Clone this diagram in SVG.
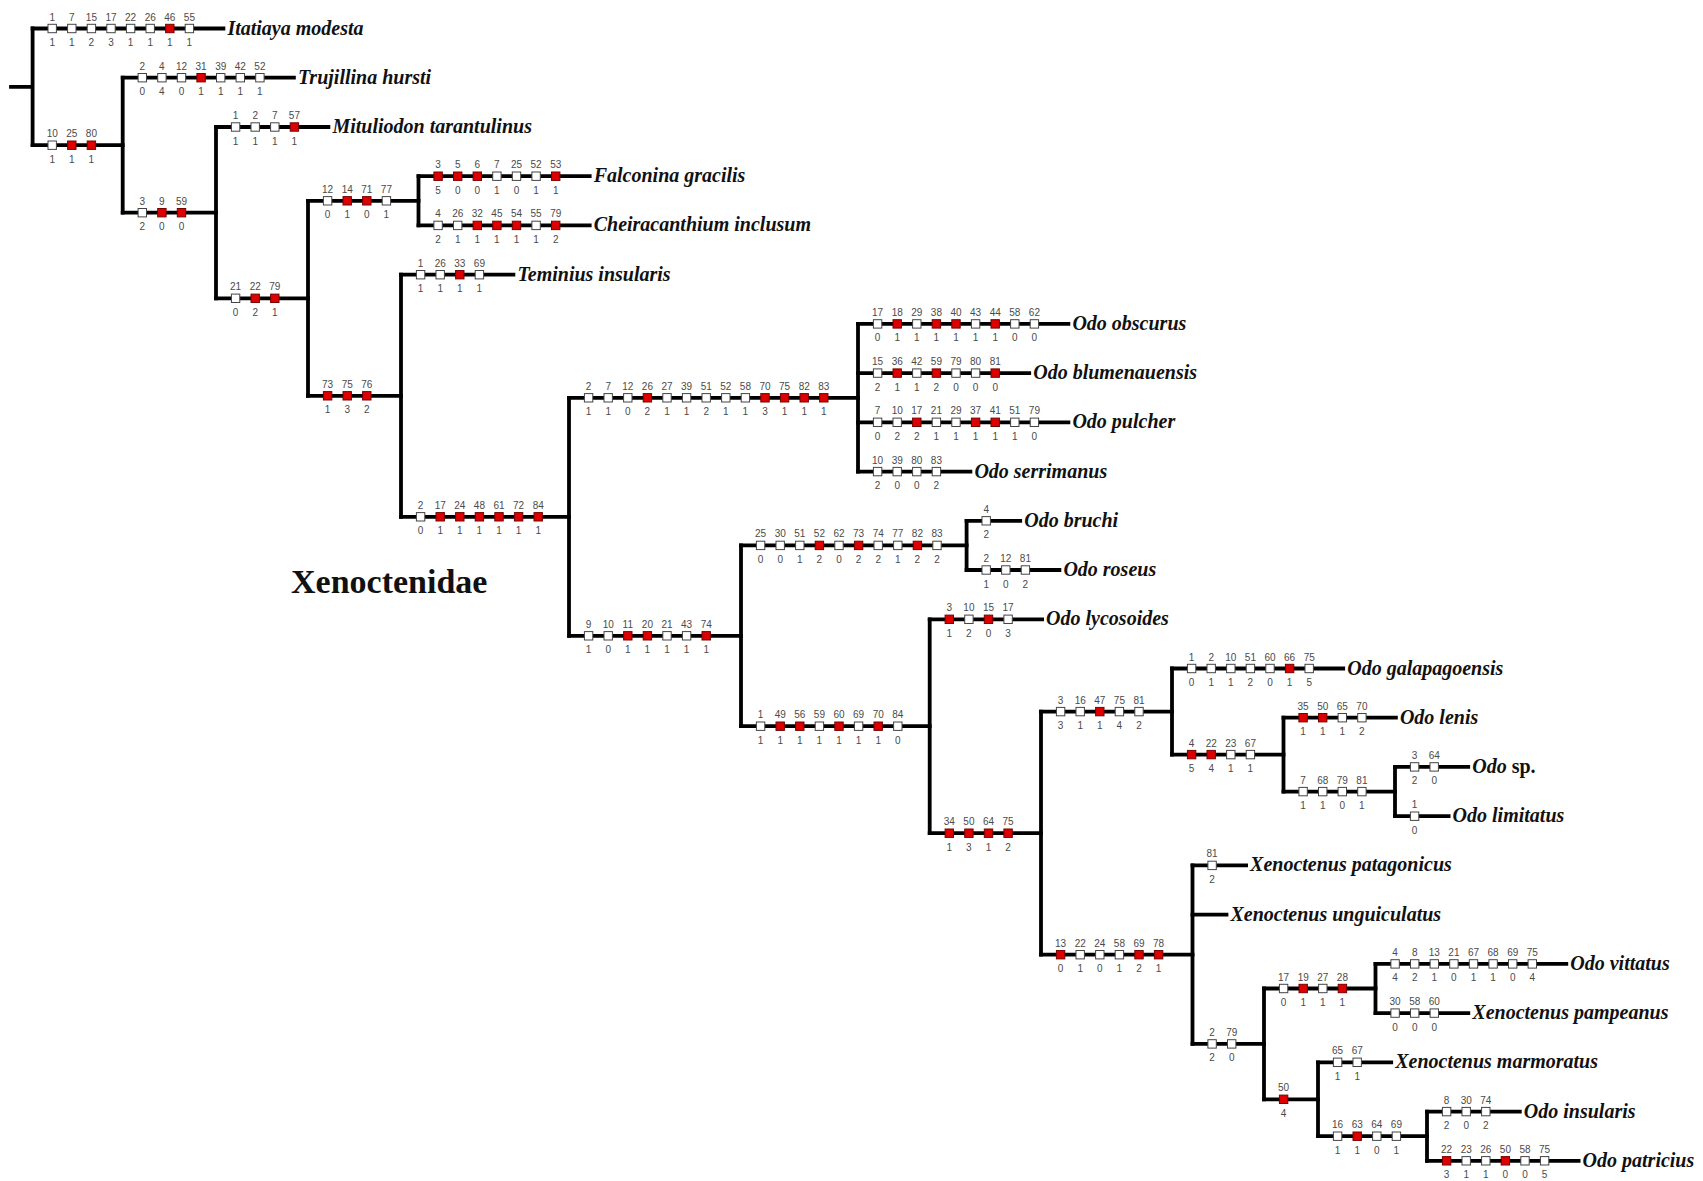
<svg xmlns="http://www.w3.org/2000/svg" width="1703" height="1181" viewBox="0 0 1703 1181">
<style>
.c{fill:none;stroke:#000;stroke-width:3.8;stroke-linecap:square}
.n{font-family:"Liberation Sans",Arial,sans-serif;font-size:10px;fill:#4a4a4a;text-anchor:middle}
.t{font-family:"Liberation Serif","Times New Roman",serif;font-size:20px;font-weight:bold;font-style:italic;fill:#111}
.fam{font-family:"Liberation Serif","Times New Roman",serif;font-size:34px;font-weight:bold;fill:#111}
</style>
<defs>
<rect id="w" x="-4.2" y="-4.2" width="8.4" height="8.4" fill="#fff" stroke="#444" stroke-width="1"/>
<rect id="r" x="-4.2" y="-4.2" width="8.4" height="8.4" fill="#dd0000" stroke="#700" stroke-width="1"/>
</defs>
<rect width="1703" height="1181" fill="#fff"/>
<g id="connectors">
<path class="c" d="M11 86.9H32.6 M32.6 28.5V145.2 M122.7 77.7V212.7 M216 127V298.3 M308 200.8V395.8 M418.5 176.2V225.4 M401 274.7V516.8 M569 397.8V635.8 M858 323.9V471.6 M741 545.4V726.2 M966.6 520.8V570 M929.7 619.3V833.2 M1041 711.6V954.7 M1172 668.5V754.6 M1283.5 717.7V791.6 M1395 766.9V816.2 M1192.5 865.4V1043.9 M1264 988.5V1099.3 M1375.5 963.9V1013.1 M1318 1062.3V1136.2 M1427 1111.6V1160.8"/>
<path class="c" d="M32.6 28.5H223.4 M32.6 145.2H122.7 M122.7 77.7H293.9 M122.7 212.7H216 M216 127H328.4 M216 298.3H308 M308 200.8H418.5 M418.5 176.2H589.7 M418.5 225.4H589.7 M308 395.8H401 M401 274.7H513.4 M401 516.8H569 M569 397.8H858 M858 323.9H1068.4 M858 373.1H1029.2 M858 422.3H1068.4 M858 471.6H970.4 M569 635.8H741 M741 545.4H966.6 M966.6 520.8H1020.2 M966.6 570H1059.4 M741 726.2H929.7 M929.7 619.3H1042.1 M929.7 833.2H1041 M1041 711.6H1172 M1172 668.5H1343.2 M1172 754.6H1283.5 M1283.5 717.7H1395.9 M1283.5 791.6H1395 M1395 766.9H1468.2 M1395 816.2H1448.6 M1041 954.7H1192.5 M1192.5 865.4H1246.1 M1192.5 914.6H1226.5 M1192.5 1043.9H1264 M1264 988.5H1375.5 M1375.5 963.9H1566.3 M1375.5 1013.1H1468.3 M1264 1099.3H1318 M1318 1062.3H1391.2 M1318 1136.2H1427 M1427 1111.6H1519.8 M1427 1160.8H1578.6"/>
</g>
<text class="fam" x="291" y="593">Xenoctenidae</text>

<g id="itatiaya-modesta">
<use href="#w" x="52.2" y="28.5"/><use href="#w" x="71.8" y="28.5"/><use href="#w" x="91.4" y="28.5"/><use href="#w" x="111" y="28.5"/><use href="#w" x="130.6" y="28.5"/><use href="#w" x="150.2" y="28.5"/><use href="#r" x="169.8" y="28.5"/><use href="#w" x="189.4" y="28.5"/>
<text class="n" y="20.5"><tspan x="52.2">1</tspan><tspan x="71.8">7</tspan><tspan x="91.4">15</tspan><tspan x="111">17</tspan><tspan x="130.6">22</tspan><tspan x="150.2">26</tspan><tspan x="169.8">46</tspan><tspan x="189.4">55</tspan></text>
<text class="n" y="46"><tspan x="52.2">1</tspan><tspan x="71.8">1</tspan><tspan x="91.4">2</tspan><tspan x="111">3</tspan><tspan x="130.6">1</tspan><tspan x="150.2">1</tspan><tspan x="169.8">1</tspan><tspan x="189.4">1</tspan></text>
<text class="t" x="227.4" y="34.5">Itatiaya modesta</text>
</g>

<g id="node-A">
<use href="#w" x="52.2" y="145.2"/><use href="#r" x="71.8" y="145.2"/><use href="#r" x="91.4" y="145.2"/>
<text class="n" y="137.2"><tspan x="52.2">10</tspan><tspan x="71.8">25</tspan><tspan x="91.4">80</tspan></text>
<text class="n" y="162.7"><tspan x="52.2">1</tspan><tspan x="71.8">1</tspan><tspan x="91.4">1</tspan></text>
</g>

<g id="trujillina-hursti">
<use href="#w" x="142.3" y="77.7"/><use href="#w" x="161.9" y="77.7"/><use href="#w" x="181.5" y="77.7"/><use href="#r" x="201.1" y="77.7"/><use href="#w" x="220.7" y="77.7"/><use href="#w" x="240.3" y="77.7"/><use href="#w" x="259.9" y="77.7"/>
<text class="n" y="69.7"><tspan x="142.3">2</tspan><tspan x="161.9">4</tspan><tspan x="181.5">12</tspan><tspan x="201.1">31</tspan><tspan x="220.7">39</tspan><tspan x="240.3">42</tspan><tspan x="259.9">52</tspan></text>
<text class="n" y="95.2"><tspan x="142.3">0</tspan><tspan x="161.9">4</tspan><tspan x="181.5">0</tspan><tspan x="201.1">1</tspan><tspan x="220.7">1</tspan><tspan x="240.3">1</tspan><tspan x="259.9">1</tspan></text>
<text class="t" x="297.9" y="83.7">Trujillina hursti</text>
</g>

<g id="node-B">
<use href="#w" x="142.3" y="212.7"/><use href="#r" x="161.9" y="212.7"/><use href="#r" x="181.5" y="212.7"/>
<text class="n" y="204.7"><tspan x="142.3">3</tspan><tspan x="161.9">9</tspan><tspan x="181.5">59</tspan></text>
<text class="n" y="230.2"><tspan x="142.3">2</tspan><tspan x="161.9">0</tspan><tspan x="181.5">0</tspan></text>
</g>

<g id="mituliodon-tarantulinus">
<use href="#w" x="235.6" y="127"/><use href="#w" x="255.2" y="127"/><use href="#w" x="274.8" y="127"/><use href="#r" x="294.4" y="127"/>
<text class="n" y="119"><tspan x="235.6">1</tspan><tspan x="255.2">2</tspan><tspan x="274.8">7</tspan><tspan x="294.4">57</tspan></text>
<text class="n" y="144.5"><tspan x="235.6">1</tspan><tspan x="255.2">1</tspan><tspan x="274.8">1</tspan><tspan x="294.4">1</tspan></text>
<text class="t" x="332.4" y="133">Mituliodon tarantulinus</text>
</g>

<g id="node-C">
<use href="#w" x="235.6" y="298.3"/><use href="#r" x="255.2" y="298.3"/><use href="#r" x="274.8" y="298.3"/>
<text class="n" y="290.3"><tspan x="235.6">21</tspan><tspan x="255.2">22</tspan><tspan x="274.8">79</tspan></text>
<text class="n" y="315.8"><tspan x="235.6">0</tspan><tspan x="255.2">2</tspan><tspan x="274.8">1</tspan></text>
</g>

<g id="node-D">
<use href="#w" x="327.6" y="200.8"/><use href="#r" x="347.2" y="200.8"/><use href="#r" x="366.8" y="200.8"/><use href="#w" x="386.4" y="200.8"/>
<text class="n" y="192.8"><tspan x="327.6">12</tspan><tspan x="347.2">14</tspan><tspan x="366.8">71</tspan><tspan x="386.4">77</tspan></text>
<text class="n" y="218.3"><tspan x="327.6">0</tspan><tspan x="347.2">1</tspan><tspan x="366.8">0</tspan><tspan x="386.4">1</tspan></text>
</g>

<g id="falconina-gracilis">
<use href="#r" x="438.1" y="176.2"/><use href="#r" x="457.7" y="176.2"/><use href="#r" x="477.3" y="176.2"/><use href="#w" x="496.9" y="176.2"/><use href="#w" x="516.5" y="176.2"/><use href="#w" x="536.1" y="176.2"/><use href="#r" x="555.7" y="176.2"/>
<text class="n" y="168.2"><tspan x="438.1">3</tspan><tspan x="457.7">5</tspan><tspan x="477.3">6</tspan><tspan x="496.9">7</tspan><tspan x="516.5">25</tspan><tspan x="536.1">52</tspan><tspan x="555.7">53</tspan></text>
<text class="n" y="193.7"><tspan x="438.1">5</tspan><tspan x="457.7">0</tspan><tspan x="477.3">0</tspan><tspan x="496.9">1</tspan><tspan x="516.5">0</tspan><tspan x="536.1">1</tspan><tspan x="555.7">1</tspan></text>
<text class="t" x="593.7" y="182.2">Falconina gracilis</text>
</g>

<g id="cheiracanthium-inclusum">
<use href="#w" x="438.1" y="225.4"/><use href="#w" x="457.7" y="225.4"/><use href="#r" x="477.3" y="225.4"/><use href="#r" x="496.9" y="225.4"/><use href="#r" x="516.5" y="225.4"/><use href="#w" x="536.1" y="225.4"/><use href="#r" x="555.7" y="225.4"/>
<text class="n" y="217.4"><tspan x="438.1">4</tspan><tspan x="457.7">26</tspan><tspan x="477.3">32</tspan><tspan x="496.9">45</tspan><tspan x="516.5">54</tspan><tspan x="536.1">55</tspan><tspan x="555.7">79</tspan></text>
<text class="n" y="242.9"><tspan x="438.1">2</tspan><tspan x="457.7">1</tspan><tspan x="477.3">1</tspan><tspan x="496.9">1</tspan><tspan x="516.5">1</tspan><tspan x="536.1">1</tspan><tspan x="555.7">2</tspan></text>
<text class="t" x="593.7" y="231.4">Cheiracanthium inclusum</text>
</g>

<g id="node-E">
<use href="#r" x="327.6" y="395.8"/><use href="#r" x="347.2" y="395.8"/><use href="#r" x="366.8" y="395.8"/>
<text class="n" y="387.8"><tspan x="327.6">73</tspan><tspan x="347.2">75</tspan><tspan x="366.8">76</tspan></text>
<text class="n" y="413.3"><tspan x="327.6">1</tspan><tspan x="347.2">3</tspan><tspan x="366.8">2</tspan></text>
</g>

<g id="teminius-insularis">
<use href="#w" x="420.6" y="274.7"/><use href="#w" x="440.2" y="274.7"/><use href="#r" x="459.8" y="274.7"/><use href="#w" x="479.4" y="274.7"/>
<text class="n" y="266.7"><tspan x="420.6">1</tspan><tspan x="440.2">26</tspan><tspan x="459.8">33</tspan><tspan x="479.4">69</tspan></text>
<text class="n" y="292.2"><tspan x="420.6">1</tspan><tspan x="440.2">1</tspan><tspan x="459.8">1</tspan><tspan x="479.4">1</tspan></text>
<text class="t" x="517.4" y="280.7">Teminius insularis</text>
</g>

<g id="node-F">
<use href="#w" x="420.6" y="516.8"/><use href="#r" x="440.2" y="516.8"/><use href="#r" x="459.8" y="516.8"/><use href="#r" x="479.4" y="516.8"/><use href="#r" x="499" y="516.8"/><use href="#r" x="518.6" y="516.8"/><use href="#r" x="538.2" y="516.8"/>
<text class="n" y="508.8"><tspan x="420.6">2</tspan><tspan x="440.2">17</tspan><tspan x="459.8">24</tspan><tspan x="479.4">48</tspan><tspan x="499">61</tspan><tspan x="518.6">72</tspan><tspan x="538.2">84</tspan></text>
<text class="n" y="534.3"><tspan x="420.6">0</tspan><tspan x="440.2">1</tspan><tspan x="459.8">1</tspan><tspan x="479.4">1</tspan><tspan x="499">1</tspan><tspan x="518.6">1</tspan><tspan x="538.2">1</tspan></text>
</g>

<g id="node-G">
<use href="#w" x="588.6" y="397.8"/><use href="#w" x="608.2" y="397.8"/><use href="#w" x="627.8" y="397.8"/><use href="#r" x="647.4" y="397.8"/><use href="#w" x="667" y="397.8"/><use href="#w" x="686.6" y="397.8"/><use href="#w" x="706.2" y="397.8"/><use href="#w" x="725.8" y="397.8"/><use href="#w" x="745.4" y="397.8"/><use href="#r" x="765" y="397.8"/><use href="#r" x="784.6" y="397.8"/><use href="#r" x="804.2" y="397.8"/><use href="#r" x="823.8" y="397.8"/>
<text class="n" y="389.8"><tspan x="588.6">2</tspan><tspan x="608.2">7</tspan><tspan x="627.8">12</tspan><tspan x="647.4">26</tspan><tspan x="667">27</tspan><tspan x="686.6">39</tspan><tspan x="706.2">51</tspan><tspan x="725.8">52</tspan><tspan x="745.4">58</tspan><tspan x="765">70</tspan><tspan x="784.6">75</tspan><tspan x="804.2">82</tspan><tspan x="823.8">83</tspan></text>
<text class="n" y="415.3"><tspan x="588.6">1</tspan><tspan x="608.2">1</tspan><tspan x="627.8">0</tspan><tspan x="647.4">2</tspan><tspan x="667">1</tspan><tspan x="686.6">1</tspan><tspan x="706.2">2</tspan><tspan x="725.8">1</tspan><tspan x="745.4">1</tspan><tspan x="765">3</tspan><tspan x="784.6">1</tspan><tspan x="804.2">1</tspan><tspan x="823.8">1</tspan></text>
</g>

<g id="odo-obscurus">
<use href="#w" x="877.6" y="323.9"/><use href="#r" x="897.2" y="323.9"/><use href="#w" x="916.8" y="323.9"/><use href="#r" x="936.4" y="323.9"/><use href="#r" x="956" y="323.9"/><use href="#w" x="975.6" y="323.9"/><use href="#r" x="995.2" y="323.9"/><use href="#w" x="1014.8" y="323.9"/><use href="#w" x="1034.4" y="323.9"/>
<text class="n" y="315.9"><tspan x="877.6">17</tspan><tspan x="897.2">18</tspan><tspan x="916.8">29</tspan><tspan x="936.4">38</tspan><tspan x="956">40</tspan><tspan x="975.6">43</tspan><tspan x="995.2">44</tspan><tspan x="1014.8">58</tspan><tspan x="1034.4">62</tspan></text>
<text class="n" y="341.4"><tspan x="877.6">0</tspan><tspan x="897.2">1</tspan><tspan x="916.8">1</tspan><tspan x="936.4">1</tspan><tspan x="956">1</tspan><tspan x="975.6">1</tspan><tspan x="995.2">1</tspan><tspan x="1014.8">0</tspan><tspan x="1034.4">0</tspan></text>
<text class="t" x="1072.4" y="329.9">Odo obscurus</text>
</g>

<g id="odo-blumenauensis">
<use href="#w" x="877.6" y="373.1"/><use href="#r" x="897.2" y="373.1"/><use href="#w" x="916.8" y="373.1"/><use href="#r" x="936.4" y="373.1"/><use href="#w" x="956" y="373.1"/><use href="#w" x="975.6" y="373.1"/><use href="#r" x="995.2" y="373.1"/>
<text class="n" y="365.1"><tspan x="877.6">15</tspan><tspan x="897.2">36</tspan><tspan x="916.8">42</tspan><tspan x="936.4">59</tspan><tspan x="956">79</tspan><tspan x="975.6">80</tspan><tspan x="995.2">81</tspan></text>
<text class="n" y="390.6"><tspan x="877.6">2</tspan><tspan x="897.2">1</tspan><tspan x="916.8">1</tspan><tspan x="936.4">2</tspan><tspan x="956">0</tspan><tspan x="975.6">0</tspan><tspan x="995.2">0</tspan></text>
<text class="t" x="1033.2" y="379.1">Odo blumenauensis</text>
</g>

<g id="odo-pulcher">
<use href="#w" x="877.6" y="422.3"/><use href="#w" x="897.2" y="422.3"/><use href="#r" x="916.8" y="422.3"/><use href="#w" x="936.4" y="422.3"/><use href="#w" x="956" y="422.3"/><use href="#r" x="975.6" y="422.3"/><use href="#r" x="995.2" y="422.3"/><use href="#w" x="1014.8" y="422.3"/><use href="#w" x="1034.4" y="422.3"/>
<text class="n" y="414.3"><tspan x="877.6">7</tspan><tspan x="897.2">10</tspan><tspan x="916.8">17</tspan><tspan x="936.4">21</tspan><tspan x="956">29</tspan><tspan x="975.6">37</tspan><tspan x="995.2">41</tspan><tspan x="1014.8">51</tspan><tspan x="1034.4">79</tspan></text>
<text class="n" y="439.8"><tspan x="877.6">0</tspan><tspan x="897.2">2</tspan><tspan x="916.8">2</tspan><tspan x="936.4">1</tspan><tspan x="956">1</tspan><tspan x="975.6">1</tspan><tspan x="995.2">1</tspan><tspan x="1014.8">1</tspan><tspan x="1034.4">0</tspan></text>
<text class="t" x="1072.4" y="428.3">Odo pulcher</text>
</g>

<g id="odo-serrimanus">
<use href="#w" x="877.6" y="471.6"/><use href="#w" x="897.2" y="471.6"/><use href="#w" x="916.8" y="471.6"/><use href="#w" x="936.4" y="471.6"/>
<text class="n" y="463.6"><tspan x="877.6">10</tspan><tspan x="897.2">39</tspan><tspan x="916.8">80</tspan><tspan x="936.4">83</tspan></text>
<text class="n" y="489.1"><tspan x="877.6">2</tspan><tspan x="897.2">0</tspan><tspan x="916.8">0</tspan><tspan x="936.4">2</tspan></text>
<text class="t" x="974.4" y="477.6">Odo serrimanus</text>
</g>

<g id="node-H">
<use href="#w" x="588.6" y="635.8"/><use href="#w" x="608.2" y="635.8"/><use href="#r" x="627.8" y="635.8"/><use href="#r" x="647.4" y="635.8"/><use href="#w" x="667" y="635.8"/><use href="#w" x="686.6" y="635.8"/><use href="#r" x="706.2" y="635.8"/>
<text class="n" y="627.8"><tspan x="588.6">9</tspan><tspan x="608.2">10</tspan><tspan x="627.8">11</tspan><tspan x="647.4">20</tspan><tspan x="667">21</tspan><tspan x="686.6">43</tspan><tspan x="706.2">74</tspan></text>
<text class="n" y="653.3"><tspan x="588.6">1</tspan><tspan x="608.2">0</tspan><tspan x="627.8">1</tspan><tspan x="647.4">1</tspan><tspan x="667">1</tspan><tspan x="686.6">1</tspan><tspan x="706.2">1</tspan></text>
</g>

<g id="node-I">
<use href="#w" x="760.6" y="545.4"/><use href="#w" x="780.2" y="545.4"/><use href="#w" x="799.8" y="545.4"/><use href="#r" x="819.4" y="545.4"/><use href="#w" x="839" y="545.4"/><use href="#r" x="858.6" y="545.4"/><use href="#w" x="878.2" y="545.4"/><use href="#w" x="897.8" y="545.4"/><use href="#r" x="917.4" y="545.4"/><use href="#w" x="937" y="545.4"/>
<text class="n" y="537.4"><tspan x="760.6">25</tspan><tspan x="780.2">30</tspan><tspan x="799.8">51</tspan><tspan x="819.4">52</tspan><tspan x="839">62</tspan><tspan x="858.6">73</tspan><tspan x="878.2">74</tspan><tspan x="897.8">77</tspan><tspan x="917.4">82</tspan><tspan x="937">83</tspan></text>
<text class="n" y="562.9"><tspan x="760.6">0</tspan><tspan x="780.2">0</tspan><tspan x="799.8">1</tspan><tspan x="819.4">2</tspan><tspan x="839">0</tspan><tspan x="858.6">2</tspan><tspan x="878.2">2</tspan><tspan x="897.8">1</tspan><tspan x="917.4">2</tspan><tspan x="937">2</tspan></text>
</g>

<g id="odo-bruchi">
<use href="#w" x="986.2" y="520.8"/>
<text class="n" y="512.8"><tspan x="986.2">4</tspan></text>
<text class="n" y="538.3"><tspan x="986.2">2</tspan></text>
<text class="t" x="1024.2" y="526.8">Odo bruchi</text>
</g>

<g id="odo-roseus">
<use href="#w" x="986.2" y="570"/><use href="#w" x="1005.8" y="570"/><use href="#w" x="1025.4" y="570"/>
<text class="n" y="562"><tspan x="986.2">2</tspan><tspan x="1005.8">12</tspan><tspan x="1025.4">81</tspan></text>
<text class="n" y="587.5"><tspan x="986.2">1</tspan><tspan x="1005.8">0</tspan><tspan x="1025.4">2</tspan></text>
<text class="t" x="1063.4" y="576">Odo roseus</text>
</g>

<g id="node-J">
<use href="#w" x="760.6" y="726.2"/><use href="#r" x="780.2" y="726.2"/><use href="#r" x="799.8" y="726.2"/><use href="#w" x="819.4" y="726.2"/><use href="#r" x="839" y="726.2"/><use href="#w" x="858.6" y="726.2"/><use href="#r" x="878.2" y="726.2"/><use href="#w" x="897.8" y="726.2"/>
<text class="n" y="718.2"><tspan x="760.6">1</tspan><tspan x="780.2">49</tspan><tspan x="799.8">56</tspan><tspan x="819.4">59</tspan><tspan x="839">60</tspan><tspan x="858.6">69</tspan><tspan x="878.2">70</tspan><tspan x="897.8">84</tspan></text>
<text class="n" y="743.7"><tspan x="760.6">1</tspan><tspan x="780.2">1</tspan><tspan x="799.8">1</tspan><tspan x="819.4">1</tspan><tspan x="839">1</tspan><tspan x="858.6">1</tspan><tspan x="878.2">1</tspan><tspan x="897.8">0</tspan></text>
</g>

<g id="odo-lycosoides">
<use href="#r" x="949.3" y="619.3"/><use href="#w" x="968.9" y="619.3"/><use href="#r" x="988.5" y="619.3"/><use href="#w" x="1008.1" y="619.3"/>
<text class="n" y="611.3"><tspan x="949.3">3</tspan><tspan x="968.9">10</tspan><tspan x="988.5">15</tspan><tspan x="1008.1">17</tspan></text>
<text class="n" y="636.8"><tspan x="949.3">1</tspan><tspan x="968.9">2</tspan><tspan x="988.5">0</tspan><tspan x="1008.1">3</tspan></text>
<text class="t" x="1046.1" y="625.3">Odo lycosoides</text>
</g>

<g id="node-K">
<use href="#r" x="949.3" y="833.2"/><use href="#r" x="968.9" y="833.2"/><use href="#r" x="988.5" y="833.2"/><use href="#r" x="1008.1" y="833.2"/>
<text class="n" y="825.2"><tspan x="949.3">34</tspan><tspan x="968.9">50</tspan><tspan x="988.5">64</tspan><tspan x="1008.1">75</tspan></text>
<text class="n" y="850.7"><tspan x="949.3">1</tspan><tspan x="968.9">3</tspan><tspan x="988.5">1</tspan><tspan x="1008.1">2</tspan></text>
</g>

<g id="node-L">
<use href="#w" x="1060.6" y="711.6"/><use href="#w" x="1080.2" y="711.6"/><use href="#r" x="1099.8" y="711.6"/><use href="#w" x="1119.4" y="711.6"/><use href="#w" x="1139" y="711.6"/>
<text class="n" y="703.6"><tspan x="1060.6">3</tspan><tspan x="1080.2">16</tspan><tspan x="1099.8">47</tspan><tspan x="1119.4">75</tspan><tspan x="1139">81</tspan></text>
<text class="n" y="729.1"><tspan x="1060.6">3</tspan><tspan x="1080.2">1</tspan><tspan x="1099.8">1</tspan><tspan x="1119.4">4</tspan><tspan x="1139">2</tspan></text>
</g>

<g id="odo-galapagoensis">
<use href="#w" x="1191.6" y="668.5"/><use href="#w" x="1211.2" y="668.5"/><use href="#w" x="1230.8" y="668.5"/><use href="#w" x="1250.4" y="668.5"/><use href="#w" x="1270" y="668.5"/><use href="#r" x="1289.6" y="668.5"/><use href="#w" x="1309.2" y="668.5"/>
<text class="n" y="660.5"><tspan x="1191.6">1</tspan><tspan x="1211.2">2</tspan><tspan x="1230.8">10</tspan><tspan x="1250.4">51</tspan><tspan x="1270">60</tspan><tspan x="1289.6">66</tspan><tspan x="1309.2">75</tspan></text>
<text class="n" y="686"><tspan x="1191.6">0</tspan><tspan x="1211.2">1</tspan><tspan x="1230.8">1</tspan><tspan x="1250.4">2</tspan><tspan x="1270">0</tspan><tspan x="1289.6">1</tspan><tspan x="1309.2">5</tspan></text>
<text class="t" x="1347.2" y="674.5">Odo galapagoensis</text>
</g>

<g id="node-N">
<use href="#r" x="1191.6" y="754.6"/><use href="#r" x="1211.2" y="754.6"/><use href="#w" x="1230.8" y="754.6"/><use href="#w" x="1250.4" y="754.6"/>
<text class="n" y="746.6"><tspan x="1191.6">4</tspan><tspan x="1211.2">22</tspan><tspan x="1230.8">23</tspan><tspan x="1250.4">67</tspan></text>
<text class="n" y="772.1"><tspan x="1191.6">5</tspan><tspan x="1211.2">4</tspan><tspan x="1230.8">1</tspan><tspan x="1250.4">1</tspan></text>
</g>

<g id="odo-lenis">
<use href="#r" x="1303.1" y="717.7"/><use href="#r" x="1322.7" y="717.7"/><use href="#w" x="1342.3" y="717.7"/><use href="#w" x="1361.9" y="717.7"/>
<text class="n" y="709.7"><tspan x="1303.1">35</tspan><tspan x="1322.7">50</tspan><tspan x="1342.3">65</tspan><tspan x="1361.9">70</tspan></text>
<text class="n" y="735.2"><tspan x="1303.1">1</tspan><tspan x="1322.7">1</tspan><tspan x="1342.3">1</tspan><tspan x="1361.9">2</tspan></text>
<text class="t" x="1399.9" y="723.7">Odo lenis</text>
</g>

<g id="node-O">
<use href="#w" x="1303.1" y="791.6"/><use href="#w" x="1322.7" y="791.6"/><use href="#w" x="1342.3" y="791.6"/><use href="#w" x="1361.9" y="791.6"/>
<text class="n" y="783.6"><tspan x="1303.1">7</tspan><tspan x="1322.7">68</tspan><tspan x="1342.3">79</tspan><tspan x="1361.9">81</tspan></text>
<text class="n" y="809.1"><tspan x="1303.1">1</tspan><tspan x="1322.7">1</tspan><tspan x="1342.3">0</tspan><tspan x="1361.9">1</tspan></text>
</g>

<g id="odo-sp">
<use href="#w" x="1414.6" y="766.9"/><use href="#w" x="1434.2" y="766.9"/>
<text class="n" y="758.9"><tspan x="1414.6">3</tspan><tspan x="1434.2">64</tspan></text>
<text class="n" y="784.4"><tspan x="1414.6">2</tspan><tspan x="1434.2">0</tspan></text>
<text class="t" x="1472.2" y="772.9">Odo <tspan font-style="normal">sp.</tspan></text>
</g>

<g id="odo-limitatus">
<use href="#w" x="1414.6" y="816.2"/>
<text class="n" y="808.2"><tspan x="1414.6">1</tspan></text>
<text class="n" y="833.7"><tspan x="1414.6">0</tspan></text>
<text class="t" x="1452.6" y="822.2">Odo limitatus</text>
</g>

<g id="node-M">
<use href="#r" x="1060.6" y="954.7"/><use href="#w" x="1080.2" y="954.7"/><use href="#w" x="1099.8" y="954.7"/><use href="#w" x="1119.4" y="954.7"/><use href="#r" x="1139" y="954.7"/><use href="#r" x="1158.6" y="954.7"/>
<text class="n" y="946.7"><tspan x="1060.6">13</tspan><tspan x="1080.2">22</tspan><tspan x="1099.8">24</tspan><tspan x="1119.4">58</tspan><tspan x="1139">69</tspan><tspan x="1158.6">78</tspan></text>
<text class="n" y="972.2"><tspan x="1060.6">0</tspan><tspan x="1080.2">1</tspan><tspan x="1099.8">0</tspan><tspan x="1119.4">1</tspan><tspan x="1139">2</tspan><tspan x="1158.6">1</tspan></text>
</g>

<g id="xenoctenus-patagonicus">
<use href="#w" x="1212.1" y="865.4"/>
<text class="n" y="857.4"><tspan x="1212.1">81</tspan></text>
<text class="n" y="882.9"><tspan x="1212.1">2</tspan></text>
<text class="t" x="1250.1" y="871.4">Xenoctenus patagonicus</text>
</g>

<g id="xenoctenus-unguiculatus">
<text class="t" x="1230.5" y="920.6">Xenoctenus unguiculatus</text>
</g>

<g id="node-S">
<use href="#w" x="1212.1" y="1043.9"/><use href="#w" x="1231.7" y="1043.9"/>
<text class="n" y="1035.9"><tspan x="1212.1">2</tspan><tspan x="1231.7">79</tspan></text>
<text class="n" y="1061.4"><tspan x="1212.1">2</tspan><tspan x="1231.7">0</tspan></text>
</g>

<g id="node-T">
<use href="#w" x="1283.6" y="988.5"/><use href="#r" x="1303.2" y="988.5"/><use href="#w" x="1322.8" y="988.5"/><use href="#r" x="1342.4" y="988.5"/>
<text class="n" y="980.5"><tspan x="1283.6">17</tspan><tspan x="1303.2">19</tspan><tspan x="1322.8">27</tspan><tspan x="1342.4">28</tspan></text>
<text class="n" y="1006"><tspan x="1283.6">0</tspan><tspan x="1303.2">1</tspan><tspan x="1322.8">1</tspan><tspan x="1342.4">1</tspan></text>
</g>

<g id="odo-vittatus">
<use href="#w" x="1395.1" y="963.9"/><use href="#w" x="1414.7" y="963.9"/><use href="#w" x="1434.3" y="963.9"/><use href="#w" x="1453.9" y="963.9"/><use href="#w" x="1473.5" y="963.9"/><use href="#w" x="1493.1" y="963.9"/><use href="#w" x="1512.7" y="963.9"/><use href="#w" x="1532.3" y="963.9"/>
<text class="n" y="955.9"><tspan x="1395.1">4</tspan><tspan x="1414.7">8</tspan><tspan x="1434.3">13</tspan><tspan x="1453.9">21</tspan><tspan x="1473.5">67</tspan><tspan x="1493.1">68</tspan><tspan x="1512.7">69</tspan><tspan x="1532.3">75</tspan></text>
<text class="n" y="981.4"><tspan x="1395.1">4</tspan><tspan x="1414.7">2</tspan><tspan x="1434.3">1</tspan><tspan x="1453.9">0</tspan><tspan x="1473.5">1</tspan><tspan x="1493.1">1</tspan><tspan x="1512.7">0</tspan><tspan x="1532.3">4</tspan></text>
<text class="t" x="1570.3" y="969.9">Odo vittatus</text>
</g>

<g id="xenoctenus-pampeanus">
<use href="#w" x="1395.1" y="1013.1"/><use href="#w" x="1414.7" y="1013.1"/><use href="#w" x="1434.3" y="1013.1"/>
<text class="n" y="1005.1"><tspan x="1395.1">30</tspan><tspan x="1414.7">58</tspan><tspan x="1434.3">60</tspan></text>
<text class="n" y="1030.6"><tspan x="1395.1">0</tspan><tspan x="1414.7">0</tspan><tspan x="1434.3">0</tspan></text>
<text class="t" x="1472.3" y="1019.1">Xenoctenus pampeanus</text>
</g>

<g id="node-U">
<use href="#r" x="1283.6" y="1099.3"/>
<text class="n" y="1091.3"><tspan x="1283.6">50</tspan></text>
<text class="n" y="1116.8"><tspan x="1283.6">4</tspan></text>
</g>

<g id="xenoctenus-marmoratus">
<use href="#w" x="1337.6" y="1062.3"/><use href="#w" x="1357.2" y="1062.3"/>
<text class="n" y="1054.3"><tspan x="1337.6">65</tspan><tspan x="1357.2">67</tspan></text>
<text class="n" y="1079.8"><tspan x="1337.6">1</tspan><tspan x="1357.2">1</tspan></text>
<text class="t" x="1395.2" y="1068.3">Xenoctenus marmoratus</text>
</g>

<g id="node-V">
<use href="#w" x="1337.6" y="1136.2"/><use href="#r" x="1357.2" y="1136.2"/><use href="#w" x="1376.8" y="1136.2"/><use href="#w" x="1396.4" y="1136.2"/>
<text class="n" y="1128.2"><tspan x="1337.6">16</tspan><tspan x="1357.2">63</tspan><tspan x="1376.8">64</tspan><tspan x="1396.4">69</tspan></text>
<text class="n" y="1153.7"><tspan x="1337.6">1</tspan><tspan x="1357.2">1</tspan><tspan x="1376.8">0</tspan><tspan x="1396.4">1</tspan></text>
</g>

<g id="odo-insularis">
<use href="#w" x="1446.6" y="1111.6"/><use href="#w" x="1466.2" y="1111.6"/><use href="#w" x="1485.8" y="1111.6"/>
<text class="n" y="1103.6"><tspan x="1446.6">8</tspan><tspan x="1466.2">30</tspan><tspan x="1485.8">74</tspan></text>
<text class="n" y="1129.1"><tspan x="1446.6">2</tspan><tspan x="1466.2">0</tspan><tspan x="1485.8">2</tspan></text>
<text class="t" x="1523.8" y="1117.6">Odo insularis</text>
</g>

<g id="odo-patricius">
<use href="#r" x="1446.6" y="1160.8"/><use href="#w" x="1466.2" y="1160.8"/><use href="#w" x="1485.8" y="1160.8"/><use href="#r" x="1505.4" y="1160.8"/><use href="#w" x="1525" y="1160.8"/><use href="#w" x="1544.6" y="1160.8"/>
<text class="n" y="1152.8"><tspan x="1446.6">22</tspan><tspan x="1466.2">23</tspan><tspan x="1485.8">26</tspan><tspan x="1505.4">50</tspan><tspan x="1525">58</tspan><tspan x="1544.6">75</tspan></text>
<text class="n" y="1178.3"><tspan x="1446.6">3</tspan><tspan x="1466.2">1</tspan><tspan x="1485.8">1</tspan><tspan x="1505.4">0</tspan><tspan x="1525">0</tspan><tspan x="1544.6">5</tspan></text>
<text class="t" x="1582.6" y="1166.8">Odo patricius</text>
</g>
</svg>
